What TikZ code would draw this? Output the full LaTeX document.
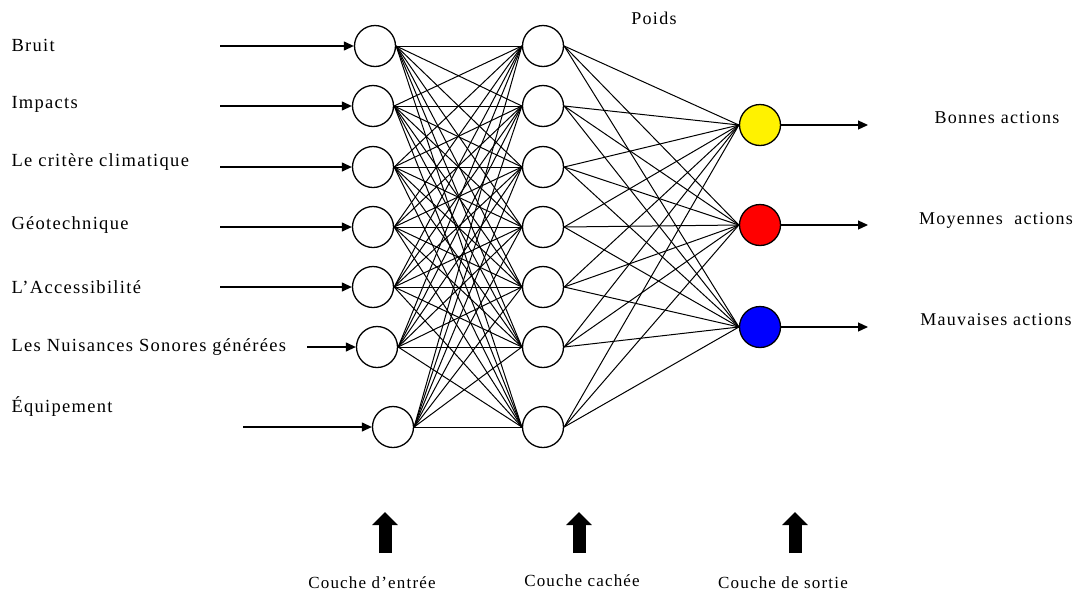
\documentclass[tikz,border=0pt]{standalone}
\usepackage{fontspec}
\setmainfont{Liberation Serif}
\usetikzlibrary{positioning,arrows.meta}

\begin{document}
\begin{tikzpicture}[x=1pt,y=-1pt,>=Stealth,
  neurone/.style={circle,draw,line width=1.3pt,minimum size=41pt,inner sep=0pt},
  lien/.style={line width=1pt},
  entree/.style={line width=1.2pt,-{Triangle[length=10pt,width=9pt]}},
  etiquette/.style={anchor=west,font=\fontsize{18.5}{21}\selectfont\addfontfeature{LetterSpace=7}},
  resultat/.style={font=\fontsize{18}{21}\selectfont\addfontfeature{LetterSpace=7}},
  couche/.style={line width=13pt,-{Triangle[length=13pt,width=25pt]}},
  legende/.style={font=\fontsize{17}{20}\selectfont\addfontfeature{LetterSpace=7}}]
\useasboundingbox (0,0) rectangle (1081,595);

%---------------------------------
% COUCHE D'ENTRÉE
%---------------------------------
\node[neurone] (in1) at (375,46) {};
\node[neurone] (in2) at (373,106) {};
\node[neurone] (in3) at (373,167) {};
\node[neurone] (in4) at (373,227) {};
\node[neurone] (in5) at (373,287) {};
\node[neurone] (in6) at (377,347) {};
\node[neurone] (in7) at (393,427) {};

% libellés des entrées
\node[etiquette] (lab1) at (8,45) {Bruit};
\node[etiquette] (lab2) at (8,104) {Impacts};
\node[etiquette] (lab3) at (8,162) {Le critère climatique};
\node[etiquette] (lab4) at (8,225) {Géotechnique};
\node[etiquette] (lab5) at (8,287) {L’Accessibilité};
\node[etiquette] (lab6) at (8,347) {Les Nuisances Sonores générées};
\node[etiquette] (lab7) at (8,407) {Équipement};

% départs des flèches d'entrée
\coordinate (s1) at (220,46);
\coordinate (s2) at (220,106);
\coordinate (s3) at (220,167);
\coordinate (s4) at (220,227);
\coordinate (s5) at (220,287);
\coordinate (s6) at (307,347);
\coordinate (s7) at (243,427);

\foreach \i in {1,...,7}
  \draw[entree] (s\i) -- (in\i.west);

%---------------------------------
% COUCHE CACHÉE
%---------------------------------
\node[neurone] (hid1) at (543,46) {};
\node[neurone] (hid2) at (543,106) {};
\node[neurone] (hid3) at (543,167) {};
\node[neurone] (hid4) at (543,227) {};
\node[neurone] (hid5) at (543,287) {};
\node[neurone] (hid6) at (543,347) {};
\node[neurone] (hid7) at (543,427) {};

\node[resultat] (poids) at (654,18) {Poids};

%---------------------------------
% COUCHE DE SORTIE
%---------------------------------
\node[neurone,fill=yellow] (out1) at (760,125) {};
\node[neurone,fill=red] (out2) at (760,225) {};
\node[neurone,fill=blue] (out3) at (760,327) {};

% poids : toutes les connexions
\foreach \i in {1,...,7}
  \foreach \j in {1,...,7}
    \draw[lien] (in\i.east) -- (hid\j.west);
\foreach \j in {1,...,7}
  \foreach \k in {1,2,3}
    \draw[lien] (hid\j.east) -- (out\k.west);

% sorties
\coordinate (e1) at (868,125);
\coordinate (e2) at (868,225);
\coordinate (e3) at (868,327);
\foreach \k in {1,2,3}
  \draw[entree] (out\k.east) -- (e\k);

\node[resultat] (res1) at (997,118) {Bonnes actions};
\node[resultat] (res2) at (996,220) {Moyennes\ \ actions};
\node[resultat] (res3) at (996,320) {Mauvaises actions};

%---------------------------------
% LÉGENDE DES COUCHES
%---------------------------------
\node[legende] (c1) at (372,583) {Couche d’entrée};
\node[legende] (c2) at (582,581) {Couche cachée};
\node[legende] (c3) at (783,583) {Couche de sortie};

% flèches épaisses vers chaque couche
\coordinate (b1) at (385,553);
\coordinate (b2) at (579,553);
\coordinate (b3) at (795,553);
\foreach \k in {1,2,3}
  \draw[couche] (b\k) -- ++(0,-41);

\end{tikzpicture}
\end{document}
